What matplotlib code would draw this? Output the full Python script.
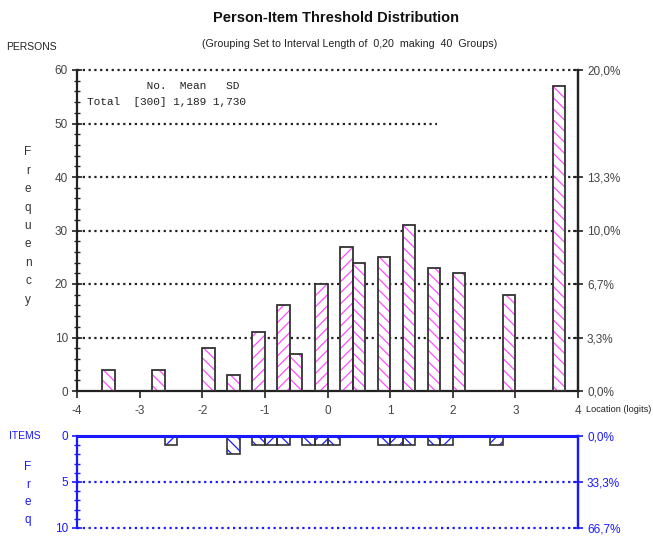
import matplotlib
matplotlib.use("Agg")
import matplotlib.pyplot as plt
from matplotlib import font_manager as fm

# ---------------- data ----------------
person_bin_left = [-3.6, -2.8, -2.0, -1.6, -1.2, -0.8, -0.6, -0.2, 0.2, 0.4, 0.8, 1.2, 1.6, 2.0, 2.8, 3.6]
person_counts   = [4, 4, 8, 3, 11, 16, 7, 20, 27, 24, 25, 31, 23, 22, 18, 57]
person_hatch    = ['\\', '\\', '\\', '\\', '/', '/', '\\', '/', '/', '\\', '\\', '\\', '\\', '\\', '\\', '\\']

item_bin_left = [-2.6, -1.6, -1.2, -1.0, -0.8, -0.4, -0.2, 0.0, 0.8, 1.0, 1.2, 1.6, 1.8, 2.6]
item_counts   = [1, 2, 1, 1, 1, 1, 1, 1, 1, 1, 1, 1, 1, 1]
item_hatch    = ['/', '\\', '\\', '/', '\\', '\\', '/', '\\', '\\', '/', '\\', '\\', '/', '/']

bin_width = 0.2
x_ticks = [-4, -3, -2, -1, 0, 1, 2, 3, 4]
person_yticks = [0, 10, 20, 30, 40, 50, 60]
person_pct_ticks = [0, 10, 20, 30, 40, 60]
item_yticks = [0, 5, 10]

title = "Person-Item Threshold Distribution"
subtitle = "(Grouping Set to Interval Length of  0,20  making  40  Groups)"
stats_header = "         No.  Mean   SD"
stats_line = "Total  [300] 1,189 1,730"

n_persons = sum(person_counts)
n_items = sum(item_counts)

# ---------------- fonts ----------------
avail = {f.name for f in fm.fontManager.ttflist}
base = 'Liberation Sans' if 'Liberation Sans' in avail else 'DejaVu Sans'
plt.rcParams['font.family'] = [base, 'DejaVu Sans']
mono = 'Liberation Mono' if 'Liberation Mono' in avail else 'DejaVu Sans Mono'
plt.rcParams['hatch.linewidth'] = 0.9

W, H = 653, 540
fig = plt.figure(figsize=(W / 100, H / 100), dpi=100)

def fx(px):
    return px / W

def fy(py):
    return 1 - py / H

magenta = '#ff4dff'
blue = '#1a1aff'
dark = '#333333'
tick_col = '#444444'
TF = 8.5

# ---------------- top (persons) ----------------
ax = fig.add_axes([fx(77), fy(391), fx(578) - fx(77), fy(70) - fy(391)])
ax.set_xlim(-4, 4)
ax.set_ylim(0, 60)
for l, c, h in zip(person_bin_left, person_counts, person_hatch):
    ax.bar(l, c, width=bin_width, align='edge', facecolor='white',
           edgecolor=magenta, hatch=h * 3, linewidth=0, zorder=2)
    ax.bar(l, c, width=bin_width, align='edge', fill=False,
           edgecolor=dark, linewidth=1.3, zorder=3)

for v in person_yticks[1:]:
    xmax = 1.75 if v == 50 else 4
    ax.hlines(v, -4, xmax, colors='#222222', linestyles=(0, (1, 1.6)),
              linewidth=1.6, zorder=1, clip_on=False)

ax.spines['top'].set_visible(False)
for s in ['left', 'right', 'bottom']:
    ax.spines[s].set_linewidth(1.6)
    ax.spines[s].set_color('#222222')
ax.set_xticks(x_ticks)
ax.set_xticklabels([str(t) for t in x_ticks], fontsize=TF, color=tick_col)
ax.set_yticks(person_yticks)
ax.set_yticklabels([str(t) for t in person_yticks], fontsize=TF, color=tick_col)
ax.set_yticks(range(0, 61, 2), minor=True)
ax.tick_params(axis='y', which='major', length=7, width=1.2, direction='inout', pad=3, color='#222222')
ax.tick_params(axis='y', which='minor', length=4, width=1.0, direction='inout', left=True, color='#222222')
ax.tick_params(axis='x', which='major', length=5, width=1.2, direction='out', pad=5, color='#222222')

ax2 = ax.twinx()
ax2.set_ylim(0, 60)
ax2.set_yticks(person_pct_ticks)
ax2.set_yticklabels([f"{v / n_persons * 100:.1f}%".replace('.', ',') for v in person_pct_ticks],
                    fontsize=TF, color=tick_col)
ax2.tick_params(axis='y', length=7, width=1.2, direction='inout', pad=3, color='#222222')
for s in ['top', 'left', 'bottom']:
    ax2.spines[s].set_visible(False)
ax2.spines['right'].set_linewidth(1.6)
ax2.spines['right'].set_color('#222222')

ax.text(0.02, 0.95, stats_header, transform=ax.transAxes, fontsize=8, family=mono, va='center', color='#222222')
ax.text(0.02, 0.90, stats_line, transform=ax.transAxes, fontsize=8, family=mono, va='center', color='#222222')

# ---------------- bottom (items) ----------------
bx = fig.add_axes([fx(77), fy(528), fx(578) - fx(77), fy(436) - fy(528)])
bx.set_xlim(-4, 4)
bx.set_ylim(10, 0)
for l, c, h in zip(item_bin_left, item_counts, item_hatch):
    bx.bar(l, c, width=bin_width, align='edge', facecolor='white',
           edgecolor=blue, hatch=h * 3, linewidth=0, zorder=2)
    bx.bar(l, c, width=bin_width, align='edge', fill=False,
           edgecolor=dark, linewidth=1.2, zorder=3)
for v in item_yticks[1:]:
    bx.hlines(v, -4, 4, colors=blue, linestyles=(0, (1, 1.6)), linewidth=1.6, zorder=1, clip_on=False)
bx.hlines(0, -4, 4, colors=blue, linewidth=2.2, zorder=4, clip_on=False)
bx.spines['top'].set_visible(False)
bx.spines['bottom'].set_visible(False)
for s in ['left', 'right']:
    bx.spines[s].set_color(blue)
    bx.spines[s].set_linewidth(1.6)
bx.set_xticks([])
bx.set_yticks(item_yticks)
bx.set_yticklabels([str(t) for t in item_yticks], fontsize=TF, color=blue)
bx.set_yticks(range(0, 11), minor=True)
bx.tick_params(axis='y', which='major', length=7, width=1.2, direction='inout', pad=3, colors=blue)
bx.tick_params(axis='y', which='minor', length=4, width=1.0, direction='inout', colors=blue)

bx2 = bx.twinx()
bx2.set_ylim(10, 0)
bx2.set_yticks(item_yticks)
bx2.set_yticklabels([f"{v / n_items * 100:.1f}%".replace('.', ',') for v in item_yticks],
                    fontsize=TF, color=blue)
bx2.tick_params(axis='y', length=7, width=1.2, direction='inout', pad=3, colors=blue)
for s in ['top', 'left', 'bottom']:
    bx2.spines[s].set_visible(False)
bx2.spines['right'].set_color(blue)
bx2.spines['right'].set_linewidth(1.6)

# ---------------- texts ----------------
fig.text(fx(336), fy(18), title, ha='center', va='center', fontsize=10.5, fontweight='bold', color='#111111')
fig.text(fx(350), fy(44), subtitle, ha='center', va='center', fontsize=7.7, color='#222222')
fig.text(fx(6), fy(47), "PERSONS", ha='left', va='center', fontsize=7.5, color='#222222')
fig.text(fx(586), fy(410), "Location (logits)", ha='left', va='center', fontsize=6.6, color='#222222')
fig.text(fx(9), fy(436), "ITEMS", ha='left', va='center', fontsize=7.5, color=blue)

for i, ch in enumerate("Frequency"):
    fig.text(fx(28), fy(152 + i * 18.5), ch, ha='center', va='center', fontsize=8.5, color='#333333')
for i, ch in enumerate("Freq"):
    fig.text(fx(28), fy(467 + i * 17.5), ch, ha='center', va='center', fontsize=8.5, color=blue)

fig.savefig("out.png", dpi=100)
